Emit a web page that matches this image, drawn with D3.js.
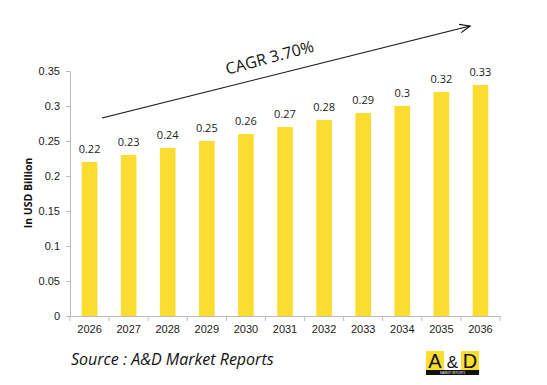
<!DOCTYPE html>
<html><head><meta charset="utf-8">
<script src="https://cdn.jsdelivr.net/npm/d3@7"></script>
<style>body{margin:0;background:#fff;} svg{display:block;font-family:"Open Sans","Noto Sans",sans-serif;}</style>
</head><body>
<script>
const years = ["2026","2027","2028","2029","2030","2031","2032","2033","2034","2035","2036"];
const values = [0.22,0.23,0.24,0.25,0.26,0.27,0.28,0.29,0.3,0.32,0.33];
const valueLabels = ["0.22","0.23","0.24","0.25","0.26","0.27","0.28","0.29","0.3","0.32","0.33"];
const yTicks = [0,0.05,0.1,0.15,0.2,0.25,0.3,0.35];
const cagrText = "CAGR 3.70%";
const yTitle = "In USD Billion";
const sourceText = "Source : A&D Market Reports";

const W=547,H=385;
const svg=d3.select("body").append("svg").attr("width",W).attr("height",H);
const x=d3.scaleBand().domain(years).range([70,500]).paddingInner(0.6).paddingOuter(0.3);
const y=d3.scaleLinear().domain([0,0.35]).range([316,71]);

// y axis
const ya=svg.append("g").attr("transform","translate(70,0)")
  .call(d3.axisLeft(y).tickValues(yTicks).tickSize(4).tickPadding(6).tickFormat(d=>d===0?"0":String(+d.toFixed(2))));
ya.select(".domain").attr("stroke","#bbb");
ya.selectAll(".tick line").attr("stroke","#bbb");
ya.selectAll("text").attr("font-size",11).attr("fill","#1a1a1a");

// x axis
const xa=svg.append("g").attr("transform","translate(0,316)")
  .call(d3.axisBottom(x).tickSize(0).tickPadding(9));
xa.select(".domain").attr("stroke","#bbb");
xa.selectAll("text").attr("font-size",11).attr("fill","#1a1a1a");
const bounds=d3.range(years.length+1).map(i=>70+i*(430/years.length));
svg.append("g").selectAll("line").data(bounds).join("line")
  .attr("x1",d=>d).attr("x2",d=>d).attr("y1",316).attr("y2",321).attr("stroke","#bbb");

// bars
svg.append("g").selectAll("rect").data(values).join("rect")
  .attr("x",(d,i)=>x(years[i])).attr("width",x.bandwidth())
  .attr("y",d=>y(d)).attr("height",d=>316-y(d)).attr("fill","#FCDC30");
svg.append("g").selectAll("text").data(values).join("text")
  .attr("x",(d,i)=>x(years[i])+x.bandwidth()/2).attr("y",d=>y(d)-9)
  .attr("text-anchor","middle").attr("font-size",11).attr("fill","#1a1a1a")
  .text((d,i)=>valueLabels[i]);

// y title
svg.append("text").attr("transform","translate(32,193) rotate(-90)")
  .attr("text-anchor","middle").attr("font-size",10.5).attr("font-weight","bold").attr("fill","#111").text(yTitle);

// arrow
const x1=102,y1=118,x2=470,y2=26;
svg.append("line").attr("x1",x1).attr("y1",y1).attr("x2",x2).attr("y2",y2).attr("stroke","#111").attr("stroke-width",1.2);
const ang=Math.atan2(y2-y1,x2-x1);
const hl=11, ha=0.4;
const p=(a)=>[x2-hl*Math.cos(ang+a), y2-hl*Math.sin(ang+a)];
svg.append("path").attr("d",`M${p(ha)}L${x2},${y2}L${p(-ha)}`).attr("fill","none").attr("stroke","#111").attr("stroke-width",1.2);

svg.append("text").attr("transform","translate(271,63) rotate(-15)")
  .attr("text-anchor","middle").attr("font-size",16).attr("fill","#111").text(cagrText);

// source
svg.append("text").attr("x",71).attr("y",365).attr("font-size",16).attr("font-style","italic").attr("fill","#111").text(sourceText);

// logo
const lg=svg.append("g").attr("transform","translate(426,351)");
lg.append("rect").attr("width",53).attr("height",24).attr("fill","#111");
lg.append("rect").attr("x",0).attr("y",0).attr("width",18).attr("height",19).attr("fill","#FCDC30");
lg.append("rect").attr("x",18).attr("y",0).attr("width",17).attr("height",19).attr("fill","#fff");
lg.append("rect").attr("x",35).attr("y",0).attr("width",18).attr("height",19).attr("fill","#FCDC30");
const lf="Liberation Sans, Arial, sans-serif";
lg.append("text").attr("x",9).attr("y",17).attr("text-anchor","middle").attr("font-size",20).attr("font-family",lf).attr("fill","#111").text("A");
lg.append("text").attr("x",26.5).attr("y",16.5).attr("text-anchor","middle").attr("font-size",17).attr("font-family",lf).attr("fill","#111").text("&");
lg.append("text").attr("x",44).attr("y",17).attr("text-anchor","middle").attr("font-size",20).attr("font-family",lf).attr("fill","#111").text("D");
lg.append("text").attr("x",26.5).attr("y",22.5).attr("text-anchor","middle").attr("font-size",3).attr("fill","#fff").text("MARKET REPORTS");
</script>
</body></html>
